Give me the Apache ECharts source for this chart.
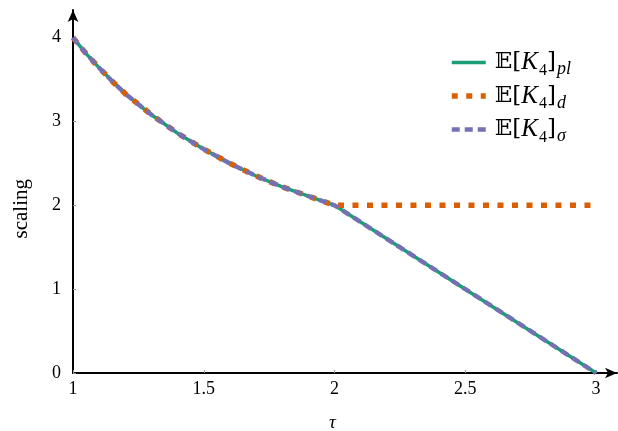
<!DOCTYPE html>
<html><head><meta charset="utf-8">
<script src="https://cdn.jsdelivr.net/npm/echarts@6/dist/echarts.min.js"></script>
<style>html,body{margin:0;padding:0;background:#fff}#c{width:618px;height:431px}</style>
</head><body><div id="c"></div>
<script>
const tau   = [1, 1.05, 1.1, 1.15, 1.2, 1.3, 1.4, 1.5, 1.6, 1.7, 1.8, 1.9, 2, 2.5, 3];
const pl    = [4, 3.81, 3.64, 3.48, 3.33, 3.08, 2.86, 2.67, 2.5, 2.35, 2.22, 2.11, 2, 1, 0];
const dval  = [4, 3.81, 3.64, 3.48, 3.33, 3.08, 2.86, 2.67, 2.5, 2.35, 2.22, 2.11, 2, 2, 2];
const sigma = [4, 3.81, 3.64, 3.48, 3.33, 3.08, 2.86, 2.67, 2.5, 2.35, 2.22, 2.11, 2, 1, 0];
const xTicks = [1, 1.5, 2, 2.5, 3];
const yTicks = [0, 1, 2, 3, 4];
const colors = ['#1b9e77', '#d95f02', '#7570b3'];
const widths = [3.5, 5.5, 4.5];
const dashes = ['solid', [6, 8.5], [8, 5]];

const zip = (a, b) => a.map((v, i) => [v, b[i]]);
const serif = 'Liberation Serif';
const ls = i => ({color: colors[i], width: widths[i], type: dashes[i]});
const chart = echarts.init(document.getElementById('c'));
chart.setOption({
  animation: false,
  grid: {left: 73, right: 1, top: 10, bottom: 58},
  xAxis: {
    type: 'value', min: 1, max: 3.08,
    splitLine: {show: false},
    axisLine: {lineStyle: {color: '#000', width: 2}, symbol: ['none', 'arrow'], symbolSize: [8, 12]},
    axisTick: {show: true, inside: true, length: 3, lineStyle: {color: '#999'}, customValues: xTicks},
    axisLabel: {customValues: xTicks, color: '#000', fontFamily: serif, fontSize: 18, margin: 7}
  },
  yAxis: {
    type: 'value', min: 0, max: 4.33,
    splitLine: {show: false},
    axisLine: {lineStyle: {color: '#000', width: 2}, symbol: ['none', 'arrow'], symbolSize: [8, 12]},
    axisTick: {show: true, inside: true, length: 3, lineStyle: {color: '#999'}, customValues: yTicks},
    axisLabel: {customValues: yTicks, color: '#000', fontFamily: serif, fontSize: 18, margin: 12}
  },
  graphic: [
    {type: 'text', left: 11, top: 179, rotation: Math.PI / 2,
     style: {text: 'scaling', font: '21px "Liberation Serif"', fill: '#000'}},
    {type: 'text', left: 329, top: 413,
     style: {text: 'τ', font: 'italic 19px "Liberation Serif"', fill: '#000'}}
  ],
  legend: {
    orient: 'vertical', left: 444, top: 45, itemWidth: 34, itemHeight: 16, itemGap: 5,
    data: [
      {name: 'pl', lineStyle: ls(0)},
      {name: 'd', lineStyle: ls(1)},
      {name: 'sigma', lineStyle: ls(2)}
    ],
    itemStyle: {opacity: 0},
    formatter: n => '{e|𝔼[}{k|K}{s|4}{e|]}{t|' + (n === 'sigma' ? 'σ' : n) + '}',
    textStyle: {
      padding: [0, 0, 0, 4],
      rich: {
        e: {fontFamily: 'DejaVu Serif', fontSize: 23, color: '#000'},
        k: {fontFamily: serif, fontStyle: 'italic', fontSize: 25, color: '#000'},
        s: {fontFamily: serif, fontSize: 16, color: '#000', verticalAlign: 'bottom', padding: [10, 0, 0, 1]},
        t: {fontFamily: serif, fontStyle: 'italic', fontSize: 18, color: '#000', verticalAlign: 'bottom', padding: [14, 0, 0, 1]}
      }
    }
  },
  series: [
    {name: 'pl', type: 'line', data: zip(tau, pl), showSymbol: false, symbol: 'none',
     lineStyle: ls(0), itemStyle: {color: colors[0]}, z: 2},
    {name: 'd', type: 'line', data: zip(tau, dval), showSymbol: false, symbol: 'none',
     lineStyle: ls(1), itemStyle: {color: colors[1]}, z: 3},
    {name: 'sigma', type: 'line', data: zip(tau, sigma), showSymbol: false, symbol: 'none',
     lineStyle: ls(2), itemStyle: {color: colors[2]}, z: 4}
  ]
});
</script></body></html>
